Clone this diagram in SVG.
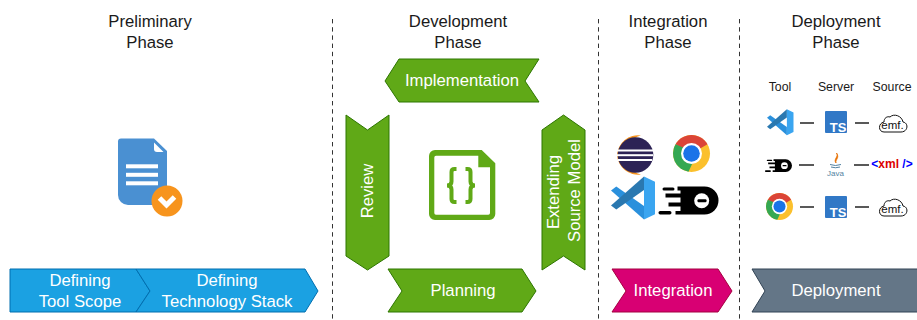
<svg xmlns="http://www.w3.org/2000/svg" width="917" height="320" viewBox="0 0 917 320">
<style>
text{font-family:"Liberation Sans",Arial,sans-serif;text-anchor:middle}
.h{font-size:16.700px;fill:#1a1a1a}
.s{font-size:12.300px;fill:#1a1a1a}
.w{font-size:16.700px;fill:#fff}
.g{fill:#60a917;stroke:#2d7600}
.b{fill:#1ba1e2;stroke:#006eaf}
.sep{stroke:#333;stroke-dasharray:4.400 3.800;fill:none}
.dash{stroke:#222;stroke-width:1.500;fill:none}
</style>
<defs>
<g id="vs">
<polygon points="0,33 12,24 75,68 75,99" fill="#2a90dc"/>
<polygon points="0,67 12,76 75,32 75,1" fill="#2a78b0"/>
<polygon points="75,1 100,13 100,87 75,99" fill="#3aa5f0"/>
</g>
<g id="chrome">
<circle cx="18.500" cy="18.500" r="18.500" fill="#fbc02d"/>
<path d="M18.500 18.500 2.500 9.250A18.500 18.500 0 0 1 34.500 9.250Z" fill="#db4437"/>
<path d="M2.500 9.250A18.500 18.500 0 0 0 15.500 36.750L24 18.500Z" fill="#34a853"/>
<circle cx="18.500" cy="18.500" r="10.500" fill="#fff"/>
<circle cx="18.500" cy="18.500" r="8.300" fill="#1a73e8"/>
</g>
<g id="dash">
<path d="M19 0H46A14 14 0 0 1 46 28H17V24.500H22V20H10V16H22V11H7V7H22V4H19Z" fill="#000"/>
<rect x="4" y="1" width="12" height="3" rx="1.500" fill="#000"/>
<rect x="0" y="24.500" width="13" height="3.500" rx="1.700" fill="#000"/>
<circle cx="43.200" cy="14.200" r="7.500" fill="#fff"/>
<rect x="39" y="12.700" width="9" height="3" rx="1" fill="#000"/>
</g>
<g id="ts">
<rect width="22" height="22" rx="1" fill="#3178c6"/>
<text x="13" y="20.500" style="font-size:13px;font-weight:700;fill:#fff">TS</text>
</g>
<g id="emf">
<path d="M6 18H23C30 18 31 9 25 8 24 2 16-1 12 3 9 2 6 4 6 8 0 9 0 18 6 18Z" fill="#fff" stroke="#111"/>
<text x="14.500" y="15" style="font-size:11.500px;fill:#111">emf.</text>
</g>
</defs>

<g id="connectors">
<line class="sep" x1="332.500" y1="19" x2="332.500" y2="320"/>
<line class="sep" x1="598.500" y1="19" x2="598.500" y2="320"/>
<line class="sep" x1="739.500" y1="19" x2="739.500" y2="320"/>
<line class="dash" x1="800" y1="123" x2="814" y2="123"/>
<line class="dash" x1="855" y1="123" x2="869" y2="123"/>
<line class="dash" x1="799" y1="165" x2="814" y2="165"/>
<line class="dash" x1="854" y1="165" x2="869" y2="165"/>
<line class="dash" x1="800" y1="207" x2="814" y2="207"/>
<line class="dash" x1="855" y1="207" x2="869" y2="207"/>
</g>

<g id="preliminary-title"><text class="h" x="150" y="27">Preliminary</text><text class="h" x="150" y="48">Phase</text></g>
<g id="development-title"><text class="h" x="458" y="27">Development</text><text class="h" x="458" y="48">Phase</text></g>
<g id="integration-title"><text class="h" x="668" y="27">Integration</text><text class="h" x="668" y="48">Phase</text></g>
<g id="deployment-title"><text class="h" x="836" y="27">Deployment</text><text class="h" x="836" y="48">Phase</text></g>

<g id="document-icon">
<path d="M121 138.500H154L167 151V191A14 14 0 0 1 153 205H128A10 10 0 0 1 118 195V141.500A3 3 0 0 1 121 138.500Z" fill="#4a90d2"/>
<path d="M154 142.500 163.500 152H157A3 3 0 0 1 154 149Z" fill="#fff"/>
<rect x="126" y="164.300" width="32" height="4" fill="#fff"/>
<rect x="126" y="172.800" width="32" height="4" fill="#fff"/>
<rect x="126" y="181.300" width="32" height="4" fill="#fff"/>
<circle cx="167" cy="201" r="15.500" fill="#f7941d"/>
<path d="M159.500 198 166.500 205 174.500 197" fill="none" stroke="#fff" stroke-width="5"/>
</g>

<g id="defining-tool-scope">
<path class="b" d="M10 269H136L150 291 136 312H10Z"/>
<text class="w" x="80" y="286">Defining</text><text class="w" x="80" y="307">Tool Scope</text>
</g>
<g id="defining-technology-stack">
<path class="b" d="M136 269H305L318 291 305 312H136L150 291Z"/>
<text class="w" x="227" y="286">Defining</text><text class="w" x="227" y="307">Technology Stack</text>
</g>

<g id="implementation"><path class="g" d="M385 81 399 59H539L525 81 539 102H399Z"/><text class="w" x="462" y="86">Implementation</text></g>
<g id="review"><path class="g" d="M346 115 367.500 130 389 115V256L367.500 270 346 256Z"/><text class="w" transform="translate(373 191) rotate(-90)">Review</text></g>
<g id="extending-source-model"><path class="g" d="M542 130 563.500 115 585 130V270L563.500 256 542 270Z"/><text class="w" transform="translate(558.500 192) rotate(-90)">Extending</text><text class="w" transform="translate(579.500 190.500) rotate(-90)">Source Model</text></g>
<g id="planning"><path class="g" d="M388 269H522L536 291 522 312H388L402 291Z"/><text class="w" x="463" y="296">Planning</text></g>

<g id="source-icon">
<path fill-rule="evenodd" fill="#60a917" d="M435 150H481.700L495.300 163.300V214A6 6 0 0 1 489.300 220H435A6 6 0 0 1 429 214V156A6 6 0 0 1 435 150ZM436 155.700A1.700 1.700 0 0 0 434.300 157.400V213A1.700 1.700 0 0 0 436 214.700H488.300A1.700 1.700 0 0 0 490 213V167.300H478.300V155.700Z"/>
<path d="M456.500 169H454.500Q451.500 169 451.500 172V181.500Q451.500 185.500 447 185.500 451.500 185.500 451.500 189.500V199Q451.500 202 454.500 202H456.500M465.500 169H467.500Q470.500 169 470.500 172V181.500Q470.500 185.500 475 185.500 470.500 185.500 470.500 189.500V199Q470.500 202 467.500 202H465.500" fill="none" stroke="#60a917" stroke-width="4"/>
</g>

<g id="integration"><path d="M612 269H718L732 291 718 312H612L626 291Z" fill="#d80073" stroke="#a50040"/><text class="w" x="673" y="296">Integration</text></g>
<g id="deployment"><path d="M752 269H920V312H752L765 291Z" fill="#647687" stroke="#314354"/><text class="w" x="836" y="296">Deployment</text></g>

<g id="eclipse-icon">
<path d="M641 135.500A20 20 0 0 0 641 174.500 21 21 0 0 1 617 155 21 21 0 0 1 641 135.500Z" fill="#f7941e"/>
<circle cx="635.500" cy="155" r="17.800" fill="#2c2255"/>
<rect x="617" y="149.500" width="36" height="2" fill="#fff"/>
<rect x="617" y="154.200" width="36" height="2" fill="#fff"/>
<rect x="618" y="159" width="34" height="2" fill="#fff"/>
</g>
<use id="chrome-large" href="#chrome" x="673" y="135"/>
<use id="vscode-large" href="#vs" transform="translate(611 176) scale(.44)"/>
<use id="dashboard-large" href="#dash" transform="translate(658.500 186.500)"/>

<g id="deployment-labels">
<text class="s" x="780" y="91">Tool</text>
<text class="s" x="836" y="91">Server</text>
<text class="s" x="892" y="91">Source</text>
</g>
<use id="vs-small" href="#vs" transform="translate(767 109) scale(.265)"/>
<use id="ts-1" href="#ts" x="825" y="111"/>
<use id="emf-1" href="#emf" x="878" y="114"/>
<use id="dash-small" href="#dash" transform="translate(765 159.300) scale(.45)"/>
<g id="java-icon">
<path d="M836.500 153C839 157 833 159 836 163 835 159.500 840 158 836.500 153Z" fill="#e76f00" stroke="#e76f00" stroke-width=".8"/>
<path d="M830 164.500Q835.500 166.500 841 164.500M831 167Q835.500 168.500 840 167" stroke="#5382a1" fill="none"/>
<text x="835.500" y="176" style="font-size:8px;fill:#5382a1">Java</text>
</g>
<g id="xml-icon">
<text x="892" y="168" style="font-size:12px;font-weight:700;fill:#00f">&lt;<tspan fill="#d00">xml</tspan> /&gt;</text>
</g>
<use id="chrome-small" href="#chrome" transform="translate(766 193) scale(.73)"/>
<use id="ts-2" href="#ts" x="825" y="196"/>
<use id="emf-2" href="#emf" x="878" y="198"/>
</svg>
